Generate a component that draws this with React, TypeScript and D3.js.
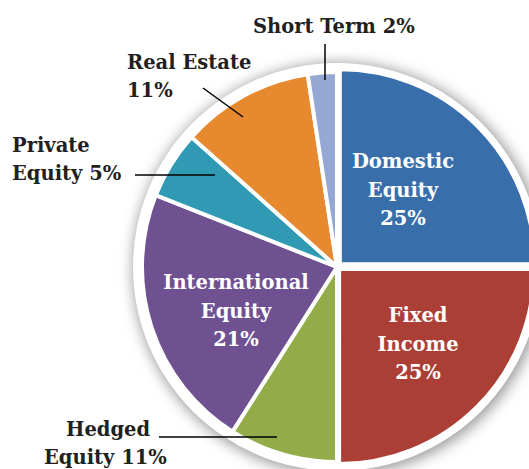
import React from 'react';
import * as d3 from 'd3';

// slice sizes (clockwise from 12 o'clock)
const categories = ['Domestic Equity', 'Fixed Income', 'Hedged Equity', 'International Equity', 'Private Equity', 'Real Estate', 'Short Term'];
const values = [25, 25, 9, 22, 5.6, 11, 2.4];
const pctLabels = ['25%', '25%', '11%', '21%', '5%', '11%', '2%'];
const colors = ['#386fab', '#ab3f36', '#93ab49', '#6f5192', '#309ab4', '#e6892f', '#95a8d3'];

const WIDTH = 529;
const HEIGHT = 469;
const CX = 337;
const CY = 267;
const R = 195;

// inside labels: lines + offset from centre
const insideLabels = [
  { index: 0, lines: ['Domestic', 'Equity', pctLabels[0]], x: 66, y: -99 },
  { index: 1, lines: ['Fixed', 'Income', pctLabels[1]], x: 81, y: 55 },
  { index: 3, lines: ['International', 'Equity', pctLabels[3]], x: -101, y: 22 },
];

// outside labels with leader lines (absolute page coords); each line has its own x
const outsideLabels = [
  { index: 6, lines: ['Short Term ' + pctLabels[6]], xs: [253], y: 33, anchor: 'start', line: [[325, 44], [325, 80]] },
  { index: 5, lines: ['Real Estate', pctLabels[5]], xs: [127, 127], y: 69, anchor: 'start', line: [[203, 88], [243, 117]] },
  { index: 4, lines: ['Private', 'Equity ' + pctLabels[4]], xs: [12, 12], y: 152, anchor: 'start', line: [[135, 175], [215, 175]] },
  { index: 2, lines: ['Hedged', 'Equity ' + pctLabels[2]], xs: [66, 44], y: 436, anchor: 'start', line: [[159, 437], [277, 437]] },
];

const explode = [4, 3, 0, 0, 0, 0, 0];

export default function App() {
  const pie = d3.pie<number>().sort(null).value((d) => d);
  const arcs = pie(values);
  const arc = d3.arc<d3.PieArcDatum<number>>().innerRadius(0).outerRadius(R);
  const font = '"DejaVu Serif", serif';

  return (
    <svg width={WIDTH} height={HEIGHT} style={{ position: 'absolute', left: 0, top: 0, background: '#fff' }}>
      <defs>
        <filter id="shadow" x="-20%" y="-20%" width="140%" height="140%">
          <feGaussianBlur stdDeviation="7" />
        </filter>
      </defs>
      <circle cx={CX + 2} cy={CY + 2} r={R + 11} fill="#9a9a9a" filter="url(#shadow)" />
      <circle cx={CX} cy={CY} r={R + 9} fill="#fff" />
      <g transform={`translate(${CX},${CY})`}>
        {arcs.map((a, i) => {
          const mid = (a.startAngle + a.endAngle) / 2;
          const dx = Math.sin(mid) * explode[i];
          const dy = -Math.cos(mid) * explode[i];
          return (
            <path
              key={categories[i]}
              d={arc(a) || ''}
              transform={`translate(${dx},${dy})`}
              fill={colors[i]}
              stroke="#fff"
              strokeWidth={4}
              strokeLinejoin="miter"
            />
          );
        })}
        {insideLabels.map((l) => (
          <text
            key={l.index}
            x={l.x}
            y={l.y}
            textAnchor="middle"
            fill="#fff"
            fontFamily={font}
            fontWeight="bold"
            fontSize={19.5}
          >
            {l.lines.map((t, j) => (
              <tspan key={j} x={l.x} dy={j === 0 ? 0 : 28.5}>{t}</tspan>
            ))}
          </text>
        ))}
      </g>
      {outsideLabels.map((l) => (
        <g key={l.index}>
          <line x1={l.line[0][0]} y1={l.line[0][1]} x2={l.line[1][0]} y2={l.line[1][1]} stroke="#000" strokeWidth={1.5} />
          <text
            x={l.xs[0]}
            y={l.y}
            textAnchor={l.anchor}
            fill="#231f20"
            fontFamily={font}
            fontWeight="bold"
            fontSize={19.5}
          >
            {l.lines.map((t, j) => (
              <tspan key={j} x={l.xs[j]} dy={j === 0 ? 0 : 27.5}>{t}</tspan>
            ))}
          </text>
        </g>
      ))}
    </svg>
  );
}
